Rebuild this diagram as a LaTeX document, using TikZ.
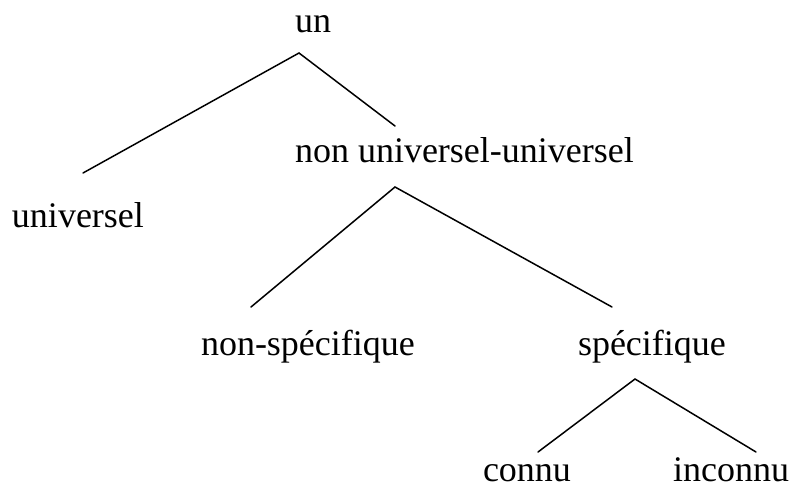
\documentclass[tikz,border=0pt]{standalone}
\usepackage{fontspec}
\setmainfont{Liberation Serif}
\begin{document}
\begin{tikzpicture}[x=1pt,y=-1pt,
  lbl/.style={inner sep=0pt,outer sep=0pt,anchor=base west,font=\fontsize{36}{40}\selectfont},
  leaf/.style={lbl,text depth=0pt},
  branch/.style={line width=1.5pt,line cap=round,line join=miter}]
\useasboundingbox (0,0) rectangle (792,489);
\node[lbl] (un) at (295,33) {un};
\node[lbl] (univ) at (12,227) {universel};
\node[lbl] (nonuniv) at (295,163) {non universel-universel};
\node[lbl] (nonspec) at (201,355) {non-spécifique};
\node[lbl] (spec) at (578,355) {spécifique};
\node[leaf] (connu) at (483,481) {connu};
\node[leaf] (inconnu) at (673,481) {inconnu};
\coordinate (a1) at (299,53);
\coordinate (a1l) at (83,173);
\coordinate (a1r) at (395,126);
\coordinate (a2) at (395,187);
\coordinate (a2l) at (251,307);
\coordinate (a2r) at (612,307);
\coordinate (a3) at (635,379);
\coordinate (a3l) at (538,452);
\coordinate (a3r) at (756,452);
\draw[branch] (a1l) -- (a1) -- (a1r);
\draw[branch] (a2l) -- (a2) -- (a2r);
\draw[branch] (a3l) -- (a3) -- (a3r);
\end{tikzpicture}
\end{document}
